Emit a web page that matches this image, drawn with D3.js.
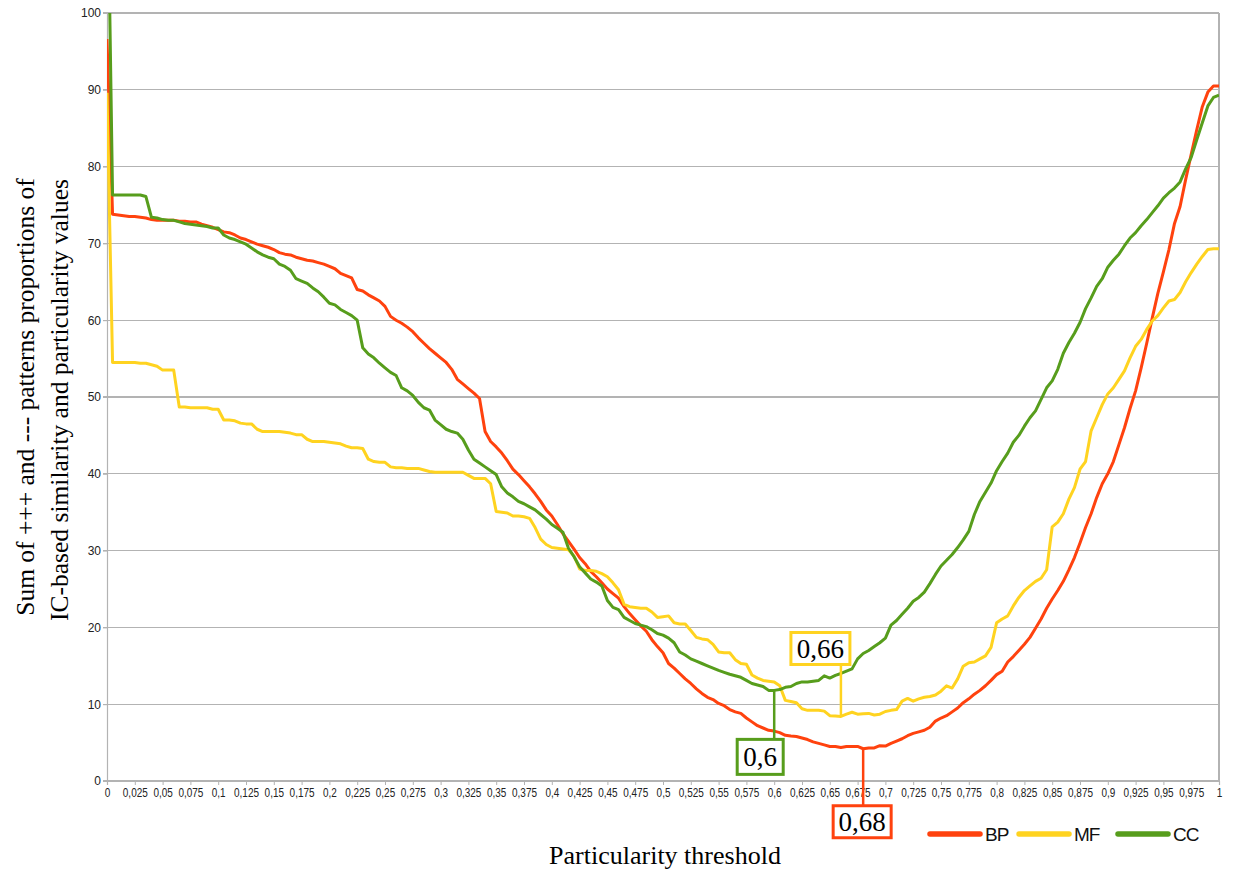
<!DOCTYPE html>
<html>
<head>
<meta charset="utf-8">
<script src="https://cdn.jsdelivr.net/npm/d3@7"></script>
<style>
  html, body { margin: 0; padding: 0; background: #fff; }
  svg { display: block; }
</style>
</head>
<body>
<svg id="chart" width="1234" height="873"></svg>
<script>
// Particularity thresholds, sampled every 0.005 from 0 to 1
const thresholds = d3.range(0, 201).map(i => i / 200);

// Sum of +++ and --- pattern proportions (%) per ontology
const bp = [
  96.6, 73.8, 73.7, 73.6, 73.5, 73.5, 73.4, 73.3, 73.1, 73.0,
  73.0, 73.0, 73.0, 72.9, 72.9, 72.8, 72.8, 72.5, 72.3, 72.1,
  71.8, 71.5, 71.4, 71.1, 70.7, 70.5, 70.2, 69.9, 69.7, 69.5,
  69.2, 68.8, 68.6, 68.5, 68.2, 68.0, 67.8, 67.7, 67.5, 67.3,
  67.0, 66.7, 66.1, 65.8, 65.5, 64.0, 63.8, 63.3, 62.9, 62.5,
  61.8, 60.5, 60.0, 59.6, 59.1, 58.5, 57.7, 57.0, 56.3, 55.7,
  55.1, 54.5, 53.6, 52.3, 51.7, 51.1, 50.5, 49.8, 45.5, 44.2,
  43.5, 42.7, 41.7, 40.6, 39.9, 39.1, 38.3, 37.4, 36.4, 35.3,
  34.5, 33.4, 32.2, 31.2, 30.2, 29.1, 28.3, 27.3, 26.6, 25.8,
  25.0, 24.4, 23.8, 22.7, 21.8, 21.0, 20.2, 19.5, 18.4, 17.5,
  16.7, 15.3, 14.7, 14.0, 13.3, 12.7, 12.0, 11.4, 10.9, 10.6,
  10.1, 9.8, 9.3, 9.0, 8.8, 8.2, 7.7, 7.2, 6.9, 6.6,
  6.5, 6.3, 5.95, 5.85, 5.8, 5.6, 5.4, 5.1, 4.9, 4.7,
  4.5, 4.5, 4.35, 4.5, 4.5, 4.5, 4.2, 4.3, 4.3, 4.6,
  4.55, 4.9, 5.2, 5.5, 5.9, 6.2, 6.4, 6.6, 7.0, 7.8,
  8.2, 8.5, 9.0, 9.5, 10.2, 10.7, 11.3, 11.8, 12.4, 13.1,
  13.85, 14.3, 15.5, 16.2, 17.0, 17.8, 18.7, 19.9, 21.1, 22.5,
  23.7, 24.8, 26.0, 27.5, 29.1, 31.0, 33.0, 34.8, 36.9, 38.7,
  40.0, 41.6, 43.8, 46.0, 48.5, 50.8, 53.8, 57.0, 60.3, 63.5,
  66.3, 69.2, 72.6, 74.8, 78.3, 81.6, 84.8, 87.8, 89.7, 90.5,
  90.5
];

const mf = [
  89.6, 54.5, 54.5, 54.5, 54.5, 54.5, 54.4, 54.4, 54.2, 54.0,
  53.5, 53.5, 53.5, 48.7, 48.7, 48.6, 48.6, 48.6, 48.6, 48.4,
  48.4, 47.0, 47.0, 46.9, 46.6, 46.5, 46.5, 45.8, 45.5, 45.5,
  45.5, 45.5, 45.4, 45.3, 45.1, 45.1, 44.5, 44.2, 44.2, 44.2,
  44.1, 44.0, 43.9, 43.6, 43.4, 43.4, 43.3, 41.9, 41.6, 41.5,
  41.5, 40.9, 40.8, 40.8, 40.7, 40.7, 40.7, 40.5, 40.3, 40.2,
  40.2, 40.2, 40.2, 40.2, 40.2, 39.8, 39.4, 39.4, 39.4, 38.7,
  35.1, 35.0, 34.9, 34.5, 34.5, 34.4, 34.2, 33.0, 31.5, 30.8,
  30.4, 30.3, 30.2, 30.1, 29.3, 27.6, 27.4, 27.4, 27.3, 27.0,
  26.6, 25.8, 24.9, 23.0, 22.7, 22.6, 22.5, 22.5, 22.0, 21.3,
  21.4, 21.5, 20.6, 20.45, 20.45, 19.6, 18.7, 18.5, 18.4, 17.8,
  16.8, 16.7, 16.7, 15.8, 15.3, 15.2, 13.8, 13.4, 13.1, 13.0,
  12.9, 12.4, 10.5, 10.35, 10.2, 9.4, 9.2, 9.2, 9.2, 9.1,
  8.5, 8.45, 8.4, 8.7, 8.95, 8.7, 8.75, 8.8, 8.6, 8.7,
  9.05, 9.2, 9.3, 10.4, 10.75, 10.4, 10.7, 10.9, 11.0, 11.2,
  11.7, 12.4, 12.1, 13.3, 14.95, 15.4, 15.5, 15.9, 16.3, 17.4,
  20.6, 21.1, 21.5, 22.8, 23.9, 24.8, 25.4, 26.0, 26.4, 27.5,
  33.1, 33.7, 34.8, 36.7, 38.2, 40.6, 41.6, 45.6, 47.3, 49.0,
  50.4, 51.2, 52.3, 53.4, 55.1, 56.6, 57.5, 58.8, 59.9, 60.6,
  61.6, 62.5, 62.7, 63.6, 65.0, 66.2, 67.3, 68.3, 69.2, 69.3,
  69.3
];

const cc = [
  124.0, 76.3, 76.3, 76.3, 76.3, 76.3, 76.3, 76.1, 73.4, 73.3,
  73.1, 73.0, 73.0, 72.8, 72.6, 72.5, 72.4, 72.3, 72.2, 72.0,
  72.0, 71.1, 70.7, 70.5, 70.2, 69.9, 69.4, 68.9, 68.5, 68.2,
  68.0, 67.3, 67.0, 66.5, 65.4, 65.1, 64.8, 64.2, 63.7, 63.0,
  62.2, 62.0, 61.4, 61.0, 60.6, 60.0, 56.4, 55.6, 55.1, 54.4,
  53.8, 53.2, 52.8, 51.2, 50.8, 50.2, 49.3, 48.6, 48.3, 47.0,
  46.4, 45.8, 45.5, 45.3, 44.5, 43.1, 41.9, 41.4, 40.9, 40.4,
  39.9, 38.3, 37.5, 37.0, 36.4, 36.1, 35.7, 35.3, 34.7, 34.1,
  33.4, 32.9, 32.4, 30.3, 29.2, 27.9, 27.1, 26.3, 25.9, 25.4,
  23.5, 22.6, 22.3, 21.3, 20.9, 20.5, 20.3, 20.1, 19.7, 19.2,
  19.0, 18.6, 18.0, 16.8, 16.4, 15.9, 15.6, 15.3, 15.0, 14.7,
  14.4, 14.15, 13.9, 13.7, 13.5, 13.1, 12.7, 12.5, 12.3, 11.8,
  11.8, 11.9, 12.2, 12.3, 12.7, 12.9, 12.9, 13.0, 13.1, 13.7,
  13.4, 13.75, 14.0, 14.3, 14.6, 15.9, 16.6, 17.0, 17.5, 18.0,
  18.6, 20.3, 20.9, 21.7, 22.5, 23.4, 23.9, 24.6, 25.7, 26.9,
  28.0, 28.75, 29.5, 30.4, 31.4, 32.5, 34.7, 36.4, 37.6, 38.8,
  40.4, 41.6, 42.7, 44.1, 45.0, 46.2, 47.3, 48.2, 49.7, 51.2,
  52.1, 53.6, 55.7, 57.1, 58.3, 59.7, 61.5, 62.9, 64.4, 65.4,
  66.9, 67.8, 68.6, 69.7, 70.7, 71.4, 72.3, 73.1, 74.0, 74.9,
  75.9, 76.6, 77.2, 78.0, 79.7, 81.2, 83.5, 85.7, 87.9, 89.0,
  89.3
];

const seriesNames = ["BP", "MF", "CC"];
const seriesColors = ["#ff420e", "#ffd320", "#579d1c"];

// Axis ticks
const xTickValues = d3.range(0, 41).map(i => i / 40);
const yTickValues = d3.range(0, 101, 10);

// Threshold giving the minimum of each curve
const optimumThresholds = [0.68, 0.66, 0.6];
const optimumLabels = ["0,68", "0,66", "0,6"];

// ---------------------------------------------------------------
const svg = d3.select("#chart");
const plot = { left: 107, right: 1219, top: 13, bottom: 781 };

const x = d3.scaleLinear().domain([0, 1]).range([plot.left, plot.right]);
const y = d3.scaleLinear().domain([0, 100]).range([plot.bottom, plot.top]);

const gridColor = "#b3b3b3";
const commaFmt = v => String(+v.toFixed(3)).replace(".", ",");

// Horizontal grid lines
svg.append("g")
  .selectAll("line")
  .data(yTickValues)
  .join("line")
  .attr("x1", plot.left - 4)
  .attr("x2", plot.right)
  .attr("y1", d => y(d))
  .attr("y2", d => y(d))
  .attr("stroke", gridColor)
  .attr("stroke-width", 1.2)
  .attr("shape-rendering", "crispEdges");

// Right border of the plot area
svg.append("line")
  .attr("x1", plot.right).attr("x2", plot.right)
  .attr("y1", plot.top).attr("y2", plot.bottom)
  .attr("stroke", gridColor).attr("stroke-width", 1.2)
  .attr("shape-rendering", "crispEdges");

// Y axis
const yAxis = d3.axisLeft(y).tickValues(yTickValues).tickSize(4).tickPadding(2)
  .tickFormat(d3.format("d"));
const gy = svg.append("g").attr("transform", `translate(${plot.left},0)`).call(yAxis);
gy.select(".domain").attr("stroke", gridColor).attr("stroke-width", 1.2);
gy.selectAll(".tick line").attr("stroke", gridColor);
gy.selectAll(".tick text")
  .attr("font-family", "'Liberation Sans', Arial, sans-serif")
  .attr("font-size", 12)
  .attr("fill", "#222");

// X axis: dense comma-decimal labels, squeezed to fit the tick spacing
const xAxis = d3.axisBottom(x).tickValues(xTickValues).tickSize(4).tickPadding(3)
  .tickFormat(commaFmt);
const gx = svg.append("g").attr("transform", `translate(0,${plot.bottom})`).call(xAxis);
gx.select(".domain").attr("stroke", gridColor).attr("stroke-width", 1.2);
gx.selectAll(".tick line").attr("stroke", gridColor);
gx.selectAll(".tick text")
  .attr("font-family", "'Liberation Sans', Arial, sans-serif")
  .attr("font-size", 12.8)
  .attr("fill", "#222")
  .attr("lengthAdjust", "spacingAndGlyphs")
  .attr("textLength", d => {
    const s = commaFmt(d);
    const digits = s.replace(/[^0-9]/g, "").length;
    const commas = s.length - digits;
    return digits * 5.6 + commas * 2.6;
  });

// Series lines, clipped to the plot area
svg.append("defs").append("clipPath").attr("id", "plot-clip")
  .append("rect")
  .attr("x", plot.left).attr("y", plot.top)
  .attr("width", plot.right - plot.left).attr("height", plot.bottom - plot.top);

const seriesValues = [bp, mf, cc];
const line = d3.line()
  .x((d, i) => x(thresholds[i]))
  .y(d => y(d));

svg.append("g").attr("clip-path", "url(#plot-clip)")
  .selectAll("path")
  .data(seriesValues)
  .join("path")
  .attr("d", d => line(d))
  .attr("fill", "none")
  .attr("stroke", (d, i) => seriesColors[i])
  .attr("stroke-width", 3)
  .attr("stroke-linejoin", "round");

// Optimum callouts: connector + boxed threshold value
const boxes = [
  { dx: -30, dy: 57, w: 58, h: 32 },   // below the BP minimum
  { dx: -50, dy: -84, w: 59, h: 32 },  // above the MF minimum
  { dx: -37, dy: 49, w: 46, h: 35 }    // below the CC minimum
];

const callouts = svg.append("g");
optimumThresholds.forEach((t, i) => {
  const idx = Math.round(t * 200);
  const ax = x(t);
  const ay = y(seriesValues[i][idx]);
  const b = boxes[i];
  const bx = ax + b.dx, by = ay + b.dy;
  const edgeY = b.dy > 0 ? by : by + b.h;
  callouts.append("line")
    .attr("x1", ax).attr("x2", ax)
    .attr("y1", ay).attr("y2", edgeY)
    .attr("stroke", seriesColors[i]).attr("stroke-width", 2.5);
  callouts.append("rect")
    .attr("x", bx).attr("y", by).attr("width", b.w).attr("height", b.h)
    .attr("fill", "#fff")
    .attr("stroke", seriesColors[i]).attr("stroke-width", 3);
  callouts.append("text")
    .attr("x", bx + b.w / 2).attr("y", by + b.h / 2 + 9.5)
    .attr("text-anchor", "middle")
    .attr("font-family", "'Liberation Serif', 'Times New Roman', serif")
    .attr("font-size", 27)
    .attr("fill", "#000")
    .text(optimumLabels[i]);
});

// Axis titles
const titleFont = "'Liberation Serif', 'Times New Roman', serif";
svg.append("text")
  .attr("transform", "translate(34,397) rotate(-90)")
  .attr("text-anchor", "middle")
  .attr("font-family", titleFont).attr("font-size", 25.5).attr("fill", "#000")
  .text("Sum of +++ and --- patterns proportions of");
svg.append("text")
  .attr("transform", "translate(68,400) rotate(-90)")
  .attr("text-anchor", "middle")
  .attr("font-family", titleFont).attr("font-size", 25.5).attr("fill", "#000")
  .text("IC-based similarity and particularity values");
svg.append("text")
  .attr("x", 665).attr("y", 864)
  .attr("text-anchor", "middle")
  .attr("font-family", titleFont).attr("font-size", 26).attr("fill", "#000")
  .text("Particularity threshold");

// Legend
const legendX = [930, 1019, 1118];
const legend = svg.append("g");
seriesNames.forEach((name, i) => {
  legend.append("line")
    .attr("x1", legendX[i]).attr("x2", legendX[i] + 50)
    .attr("y1", 834).attr("y2", 834)
    .attr("stroke", seriesColors[i]).attr("stroke-width", 5.5)
    .attr("stroke-linecap", "round");
  legend.append("text")
    .attr("x", legendX[i] + 55).attr("y", 841)
    .attr("font-family", "'Liberation Sans', Arial, sans-serif")
    .attr("font-size", 19)
    .attr("letter-spacing", -1)
    .attr("fill", "#111")
    .text(name);
});
</script>
</body>
</html>
